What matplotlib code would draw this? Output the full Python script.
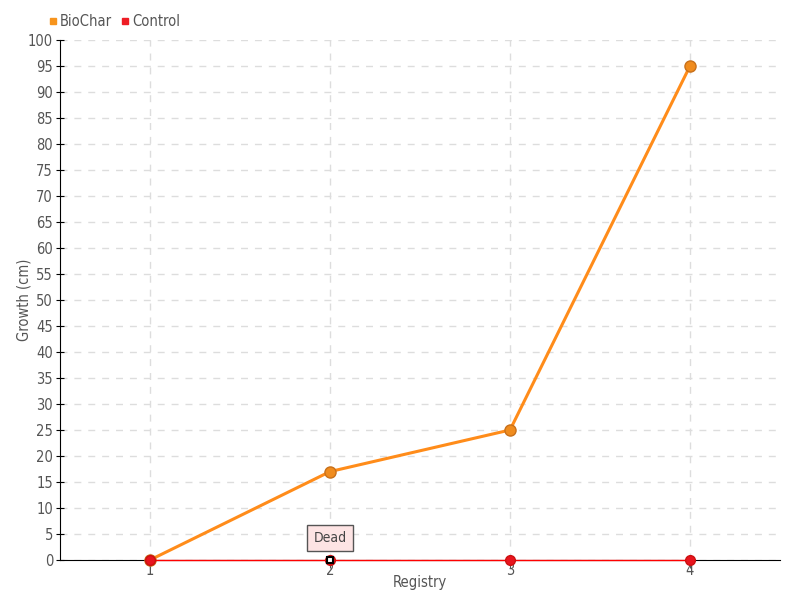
import matplotlib
matplotlib.use('Agg')
import matplotlib.pyplot as plt

registry = [1, 2, 3, 4]
biochar = [0, 17, 25, 95]
control = [0, 0, 0, 0]
dead_idx = 1  # control plant died at registry 2

plt.rcParams['font.family'] = ['DejaVu Sans']
plt.rcParams['font.stretch'] = 'condensed'

fig = plt.figure(figsize=(8, 6), dpi=100)
ax = fig.add_axes([0.075, 0.0667, 0.9, 0.8666])

txt = '#555555'

# grid
ax.set_axisbelow(True)
ax.grid(True, color='#dddddd', linestyle=(0, (5, 5)), linewidth=1)

# series
ax.plot(registry, biochar, color='#ff8c1a', linewidth=2.2, zorder=3,
        marker='o', markersize=8, markerfacecolor='#f08c1e',
        markeredgecolor='#c8701a', markeredgewidth=1, clip_on=False)
ax.plot(registry, control, color='#ff0000', linewidth=1, zorder=4, clip_on=False)
ax.plot(registry, control, linestyle='none', marker='o', markersize=7,
        markerfacecolor='#e8141e', markeredgecolor='#cc1010', zorder=5, clip_on=False)

# special marker for the dead point
ax.plot(registry[dead_idx], control[dead_idx], linestyle='none', marker='s',
        markersize=5, markerfacecolor='white', markeredgecolor='black',
        markeredgewidth=1.5, zorder=6, clip_on=False)
ax.annotate('Dead', xy=(registry[dead_idx], control[dead_idx]),
            xytext=(0, 16), textcoords='offset points', ha='center', va='center',
            fontsize=10, color='#444444',
            bbox=dict(boxstyle='square,pad=0.45', fc='#fde4e4', ec='#555555', lw=1),
            zorder=7)

ax.set_xlim(0.5, 4.5)
ax.set_ylim(0, 100)
ax.set_xticks(registry)
ax.set_yticks(range(0, 101, 5))
ax.tick_params(axis='y', direction='inout', length=6, colors='black',
               labelcolor=txt, labelsize=10.5, pad=2)
ax.tick_params(axis='x', direction='out', length=6, colors='#555555',
               labelcolor=txt, labelsize=10.5, pad=-4)

for s in ['top', 'right']:
    ax.spines[s].set_visible(False)
ax.spines['left'].set_color('black')
ax.spines['bottom'].set_color('black')

ax.set_xlabel('Registry', color=txt, fontsize=10.5)
ax.set_ylabel('Growth (cm)', color=txt, fontsize=10.5)
ax.xaxis.set_label_coords(0.5, -0.028)
ax.yaxis.set_label_coords(-0.039, 0.5)

# legend
handles = [plt.Line2D([], [], linestyle='none', marker='s', markersize=5,
                      color='#f7941d'),
           plt.Line2D([], [], linestyle='none', marker='s', markersize=5,
                      color='#ee1c25')]
fig.legend(handles, ['BioChar', 'Control'], loc='upper left',
           bbox_to_anchor=(0.042, 0.998), ncol=2, frameon=False,
           handletextpad=0.1, columnspacing=0.5, handlelength=0.8,
           fontsize=10.5, labelcolor=txt)

fig.savefig('out.png', dpi=100)
